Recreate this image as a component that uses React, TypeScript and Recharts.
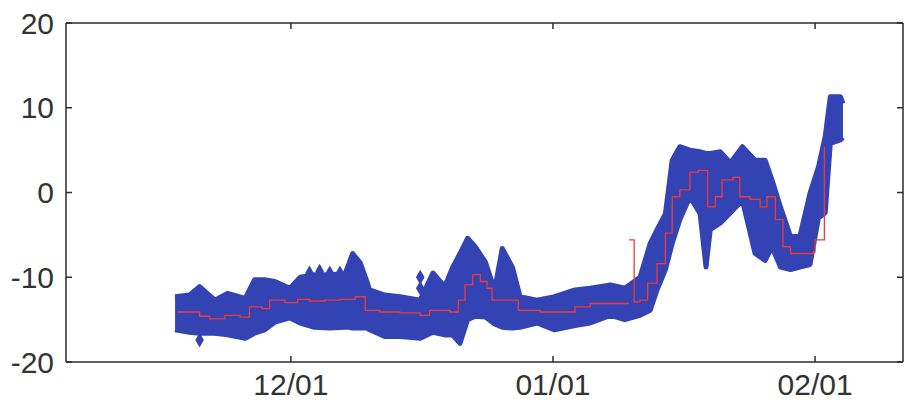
import { ComposedChart, Area, Line, Scatter, XAxis, YAxis } from 'recharts'

// x = days since 11/01
const bandDays = [16.3, 18.0, 19.2, 21.0, 22.5, 24.6, 25.7, 26.9, 28.1, 29.9, 31.1, 32.8, 34.6, 36.4, 36.9, 37.3, 38.2, 39.0, 39.3, 41.1, 42.9, 45.3, 46.8, 48.2, 49.1, 50.0, 50.9, 51.8, 53.0, 54.1, 55.0, 56.2, 57.1, 59.1, 61.2, 63.6, 65.4, 67.8, 69.5, 71.3, 72.5, 73.3, 74.3, 75.1, 76.0, 77.2, 78.4, 79.1, 79.6, 80.8, 82.0, 83.4, 84.9, 86.1, 86.9, 87.9, 89.1, 90.2, 91.4, 92.4, 93.2, 93.8, 95.0, 95.3]
const bandHigh = [-12.3, -12.1, -11.1, -12.7, -11.9, -12.5, -10.3, -10.3, -10.5, -11.3, -10.0, -9.7, -9.7, -9.6, -8.3, -7.2, -8.3, -10.5, -11.5, -12.1, -12.3, -12.7, -9.5, -11.1, -8.9, -7.2, -5.4, -6.4, -8.2, -11.5, -6.6, -8.8, -12.3, -12.7, -12.3, -11.5, -11.3, -10.9, -11.3, -10.0, -6.0, -4.4, -2.5, 3.8, 5.4, 5.0, 4.8, 4.6, 4.6, 4.8, 3.5, 5.4, 3.8, 3.8, 1.5, -1.7, -5.2, -5.2, -0.1, 3.0, 6.6, 11.3, 11.3, 10.5]
const bandLow = [-16.2, -16.5, -16.6, -16.6, -16.8, -17.2, -16.6, -16.2, -15.3, -14.8, -15.4, -15.9, -16.0, -15.9, -15.9, -16.0, -16.0, -16.0, -16.2, -17.0, -17.0, -17.2, -16.5, -16.8, -16.8, -17.8, -15.0, -14.6, -14.7, -15.5, -15.9, -16.0, -15.9, -15.4, -16.2, -15.7, -15.4, -14.5, -15.0, -14.5, -13.9, -11.5, -9.1, -6.0, -3.2, -0.5, -2.5, -8.8, -4.4, -3.6, -2.4, -0.9, -7.2, -8.0, -6.4, -8.8, -9.1, -8.8, -8.5, -3.0, -2.4, 5.8, 6.2, 6.5]

const lineDays = [16.6, 18.6, 19.2, 20.4, 22.2, 24.0, 25.1, 26.6, 27.5, 29.3, 30.8, 32.2, 34.0, 35.8, 37.6, 38.8, 40.5, 42.9, 45.3, 46.4, 48.8, 49.8, 50.6, 51.5, 52.4, 53.2, 53.8, 55.9, 56.9, 59.5, 61.8, 63.6, 65.4, 69.9, 69.95, 70.0, 70.6, 71.3, 72.2, 73.3, 74.3, 75.1, 76.0, 77.2, 78.2, 79.3, 80.2, 81.0, 82.3, 83.1, 84.3, 85.5, 86.3, 87.3, 88.2, 89.1, 91.8, 92.0, 93.0, 93.1]
const lineValues: (number | null)[] = [-14.1, -14.1, -14.6, -14.9, -14.5, -14.7, -13.5, -13.7, -12.7, -13.0, -12.6, -12.8, -12.7, -12.6, -12.3, -13.9, -14.1, -14.2, -14.5, -13.9, -14.1, -12.7, -10.9, -9.7, -10.5, -11.3, -12.7, -12.7, -13.9, -14.1, -14.1, -13.5, -13.1, -13.0, null, -5.6, -12.9, -12.7, -10.7, -8.4, -4.8, -0.5, 0.3, 2.4, 2.6, -1.7, -0.5, 1.5, 1.8, -0.5, -0.8, -1.7, -0.5, -3.2, -6.4, -7.2, -7.0, -5.6, -5.6, 5.4]

const outlierDays = [19.2, 32.2, 33.4, 34.6, 35.8, 45.3, 45.3]
const outlierValues = [-17.4, -9.5, -9.3, -9.5, -9.5, -10.0, -11.3]

const xTicks = [30, 61, 92]
const xTickLabels = ['12/01', '01/01', '02/01']
const yTicks = [-20, -10, 0, 10, 20]

const band = bandDays.map((day, i) => ({ day, range: [bandLow[i], bandHigh[i]] }))
const avg = lineDays.map((day, i) => ({ day, v: lineValues[i] }))
const outliers = outlierDays.map((day, i) => ({ day, v: outlierValues[i] }))

const BLUE = '#3343b4'
const RED = '#ee3b3b'
const INK = '#2b2b2b'
const font = { fontFamily: 'Liberation Sans, Arial, sans-serif', fontSize: 30, fill: '#333' }
const axisStroke = { stroke: INK, strokeWidth: 1.5 }

export default function App() {
  return (
    <div style={{ position: 'absolute', left: 0, top: 0, background: '#fff' }}>
      <ComposedChart width={904} height={405} margin={{ top: 22, right: 0, bottom: 0, left: 0 }}>
        <XAxis
          dataKey="day"
          type="number"
          domain={[3.4, 102.4]}
          ticks={xTicks}
          tickFormatter={(d: number) => xTickLabels[xTicks.indexOf(d)]}
          allowDataOverflow
          height={43}
          tickSize={-6}
          tickMargin={18}
          axisLine={axisStroke}
          tickLine={axisStroke}
          tick={font}
        />
        <XAxis
          xAxisId="top"
          dataKey="day"
          type="number"
          orientation="top"
          domain={[3.4, 102.4]}
          ticks={xTicks}
          tickFormatter={() => ''}
          allowDataOverflow
          height={1}
          tickSize={-6}
          axisLine={axisStroke}
          tickLine={axisStroke}
        />
        <YAxis
          type="number"
          domain={[-20, 20]}
          ticks={yTicks}
          allowDataOverflow
          width={66}
          tickSize={-6}
          tickMargin={18}
          axisLine={axisStroke}
          tickLine={axisStroke}
          tick={font}
        />
        <YAxis
          yAxisId="r"
          orientation="right"
          type="number"
          domain={[-20, 20]}
          ticks={yTicks}
          tickFormatter={() => ''}
          allowDataOverflow
          width={1}
          tickSize={-6}
          axisLine={axisStroke}
          tickLine={axisStroke}
        />
        <Area
          data={band}
          dataKey="range"
          type="linear"
          stroke={BLUE}
          strokeWidth={5}
          strokeLinejoin="round"
          fill={BLUE}
          fillOpacity={1}
          isAnimationActive={false}
        />
        <Scatter data={outliers} dataKey="v" shape="diamond" fill={BLUE} isAnimationActive={false} />
        <Line
          data={avg}
          dataKey="v"
          type="stepAfter"
          stroke={RED}
          strokeWidth={1.3}
          dot={false}
          isAnimationActive={false}
        />
        {/* invisible series so the top and right frame axes get drawn */}
        <Line
          data={avg}
          dataKey="v"
          xAxisId="top"
          yAxisId="r"
          stroke="transparent"
          dot={false}
          activeDot={false}
          isAnimationActive={false}
        />
      </ComposedChart>
    </div>
  )
}
